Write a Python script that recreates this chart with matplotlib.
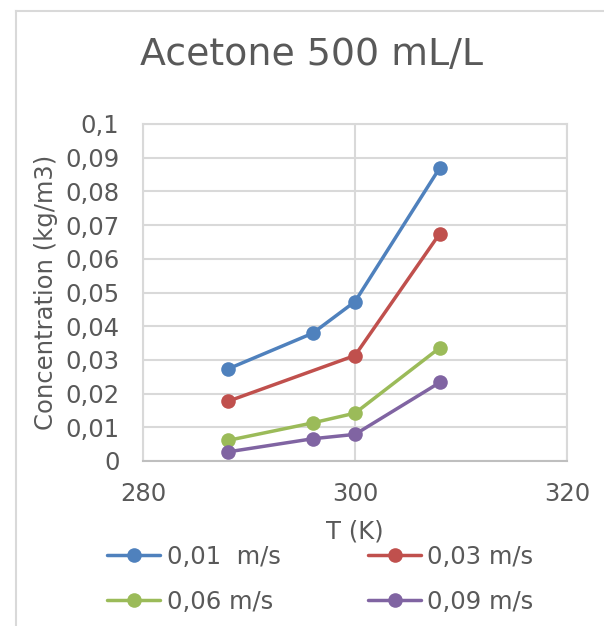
import matplotlib
matplotlib.use("Agg")
import matplotlib.pyplot as plt
from matplotlib.lines import Line2D
from matplotlib.ticker import FuncFormatter

# Temperature (K) and concentration (kg/m3) per air velocity
temp_a = [288, 296, 300, 308]
temp_b = [288, 300, 308]
conc_001 = [0.0273, 0.0379, 0.0473, 0.0870]
conc_003 = [0.0177, 0.0313, 0.0675]
conc_006 = [0.0061, 0.0113, 0.0142, 0.0336]
conc_009 = [0.0027, 0.0066, 0.0079, 0.0233]

labels = ["0,01  m/s", "0,03 m/s", "0,06 m/s", "0,09 m/s"]
colors = ["#4F81BD", "#C0504D", "#9BBB59", "#8064A2"]
series = [(temp_a, conc_001), (temp_b, conc_003), (temp_a, conc_006), (temp_a, conc_009)]

x_ticks = [280, 300, 320]
y_ticks = [0, 0.01, 0.02, 0.03, 0.04, 0.05, 0.06, 0.07, 0.08, 0.09, 0.1]

plt.rcParams["font.family"] = ["DejaVu Sans"]
text_color = "#595959"
grid_color = "#D9D9D9"
fs = 17.5

W, H = 604, 626
fig = plt.figure(figsize=(W / 100, H / 100), dpi=100)

# chart frame (top and left edges)
fig.add_artist(Line2D([15.5 / W, 15.5 / W], [0, 1 - 10.5 / H], color="#D9D9D9", lw=1.5))
fig.add_artist(Line2D([15.5 / W, 1], [1 - 10.5 / H, 1 - 10.5 / H], color="#D9D9D9", lw=1.5))

left, right, top, bottom = 143, 567, 124, 461
ax = fig.add_axes([left / W, 1 - bottom / H, (right - left) / W, (bottom - top) / H])

handles = []
for (xs, ys), c, lab in zip(series, colors, labels):
    h, = ax.plot(xs, ys, color=c, lw=2.5, marker="o", markersize=10.5,
                 markeredgewidth=0, label=lab, solid_capstyle="round", zorder=3)
    handles.append(h)

ax.set_xlim(280, 320)
ax.set_ylim(0, 0.1)
ax.set_xticks(x_ticks)
ax.set_yticks(y_ticks)

def comma_fmt(v, pos):
    s = f"{v:.2f}".rstrip("0").rstrip(".")
    return s.replace(".", ",")

ax.yaxis.set_major_formatter(FuncFormatter(comma_fmt))
ax.xaxis.set_major_formatter(FuncFormatter(lambda v, p: f"{v:.0f}"))

ax.grid(True, color=grid_color, lw=1.5, zorder=0)
ax.set_axisbelow(True)
for s in ["top", "right", "left"]:
    ax.spines[s].set_color(grid_color)
    ax.spines[s].set_linewidth(1.5)
ax.spines["bottom"].set_color("#BFBFBF")
ax.spines["bottom"].set_linewidth(1.5)

ax.tick_params(axis="both", length=0, labelsize=fs, colors=text_color)
ax.tick_params(axis="y", pad=17)
ax.tick_params(axis="x", pad=15)

fig.text(355 / W, 1 - 532 / H, "T (K)", ha="center", va="center",
         fontsize=fs, color=text_color)
fig.text(46 / W, 1 - 292 / H, "Concentration (kg/m3)", ha="center", va="center",
         rotation=90, fontsize=fs, color=text_color)
fig.text(311 / W, 1 - 55 / H, "Acetone 500 mL/L", ha="center", va="center",
         fontsize=27.3, color=text_color)

# legend laid out row by row
order = [0, 2, 1, 3]
leg = fig.legend(handles=[handles[i] for i in order], loc="upper left", ncol=2,
                 bbox_to_anchor=(107 / W, 1 - 545 / H), frameon=False,
                 fontsize=fs, handlelength=2.2, handletextpad=0.25,
                 columnspacing=3.6, labelspacing=0.85, borderpad=0,
                 borderaxespad=0)
for t in leg.get_texts():
    t.set_color(text_color)

fig.savefig("out.png", dpi=100, facecolor="white")
